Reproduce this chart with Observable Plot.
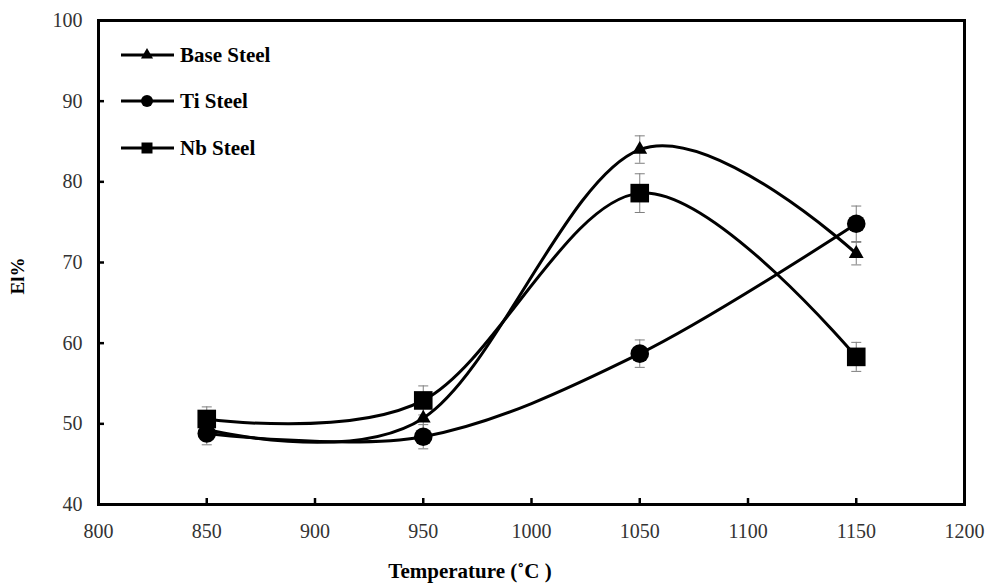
<!DOCTYPE html>
<html><head><meta charset="utf-8">
<script src="https://cdn.jsdelivr.net/npm/d3@7"></script>
<script src="https://cdn.jsdelivr.net/npm/@observablehq/plot@0.6"></script>
<style>
body{margin:0;background:#fff;}
#wrap{position:relative;width:987px;height:585px;}
#legend{position:absolute;left:0;top:0;pointer-events:none;}
</style></head><body><div id="wrap"></div>
<script>
const temperatures = [850, 950, 1050, 1150];
const seriesNames = ["Base Steel", "Ti Steel", "Nb Steel"];
const baseSteel = [49.3, 50.7, 84.0, 71.1];
const baseErr   = [1.4, 1.5, 1.7, 1.4];
const tiSteel   = [48.8, 48.4, 58.7, 74.8];
const tiErr     = [1.4, 1.5, 1.7, 2.2];
const nbSteel   = [50.6, 52.9, 78.6, 58.3];
const nbErr     = [1.5, 1.8, 2.4, 1.8];
const xTicks = [800, 850, 900, 950, 1000, 1050, 1100, 1150, 1200];
const yTicks = [40, 50, 60, 70, 80, 90, 100];
const xTitle = "Temperature (˚C )";
const yTitle = "El%";

const symbols = ["triangle", "circle", "square"];
const radii = [5.5, 9.3, 10.5];
const values = [baseSteel, tiSteel, nbSteel];
const errs = [baseErr, tiErr, nbErr];
const rows = [];
seriesNames.forEach((s, i) => temperatures.forEach((t, j) => rows.push({series: s, idx: i, x: t, y: values[i][j], e: errs[i][j]})));

const capSymbol = {draw(ctx, size) { const h = Math.sqrt(size / Math.PI); ctx.moveTo(-h, 0); ctx.lineTo(h, 0); }};
const font = "'Liberation Serif','Times New Roman',serif";

const chart = Plot.plot({
  width: 987, height: 585,
  marginLeft: 98, marginRight: 23, marginTop: 20, marginBottom: 81,
  style: {fontFamily: font, fontSize: "20px", color: "#000", background: "#fff"},
  x: {domain: [800, 1200]},
  y: {domain: [40, 100]},
  marks: [
    Plot.ruleX(rows, {x: "x", y1: d => d.y - d.e, y2: d => d.y + d.e, stroke: "#7f7f7f", strokeWidth: 1}),
    Plot.dot(rows, {x: "x", y: d => d.y + d.e, symbol: capSymbol, r: 5, stroke: "#7f7f7f", strokeWidth: 1, fill: "none"}),
    Plot.dot(rows, {x: "x", y: d => d.y - d.e, symbol: capSymbol, r: 5, stroke: "#7f7f7f", strokeWidth: 1, fill: "none"}),
    Plot.line(rows, {x: "x", y: "y", z: "series", curve: "cardinal", stroke: "#000", strokeWidth: 3}),
    ...seriesNames.map((s, i) => Plot.dot(rows.filter(d => d.idx === i), {x: "x", y: "y", symbol: symbols[i], r: radii[i], fill: "#000", stroke: "none"})),
    Plot.frame({stroke: "#000", strokeWidth: 3}),
    Plot.axisX({ticks: xTicks, tickFormat: d => String(d), tickSize: -6, tickPadding: 25, strokeWidth: 2.5, stroke: "#000", fill: "#333", label: null}),
    Plot.axisY({ticks: yTicks, tickFormat: d => String(d), tickSize: -6, tickPadding: 22, strokeWidth: 2.5, stroke: "#000", fill: "#333", label: null})
  ]
});
document.getElementById("wrap").appendChild(chart);

// overlay: axis titles and legend
const lg = d3.select("#wrap").append("svg").attr("id", "legend").attr("width", 987).attr("height", 585);
lg.append("text").attr("x", 470).attr("y", 578).attr("text-anchor", "middle")
  .attr("font-family", font).attr("font-weight", "bold").attr("font-size", "21px").attr("fill", "#000").text(xTitle);
lg.append("text").attr("transform", "translate(24,276) rotate(-90)").attr("text-anchor", "middle")
  .attr("font-family", font).attr("font-weight", "bold").attr("font-size", "19px").attr("fill", "#000").text(yTitle);

const legendY = [55, 101, 148];
const legendR = [4.5, 6, 6.2];
seriesNames.forEach((s, i) => {
  const g = lg.append("g").attr("transform", `translate(0,${legendY[i]})`);
  g.append("line").attr("x1", 121).attr("x2", 174).attr("y1", 0).attr("y2", 0).attr("stroke", "#000").attr("stroke-width", 3);
  const sym = [d3.symbolTriangle, d3.symbolCircle, d3.symbolSquare][i];
  g.append("path").attr("transform", "translate(147,0)").attr("d", d3.symbol(sym, Math.PI * legendR[i] * legendR[i])()).attr("fill", "#000");
  g.append("text").attr("x", 180).attr("y", 0).attr("dy", "0.35em").attr("font-family", font).attr("font-weight", "bold").attr("font-size", "21px").text(s);
});
</script></body></html>
